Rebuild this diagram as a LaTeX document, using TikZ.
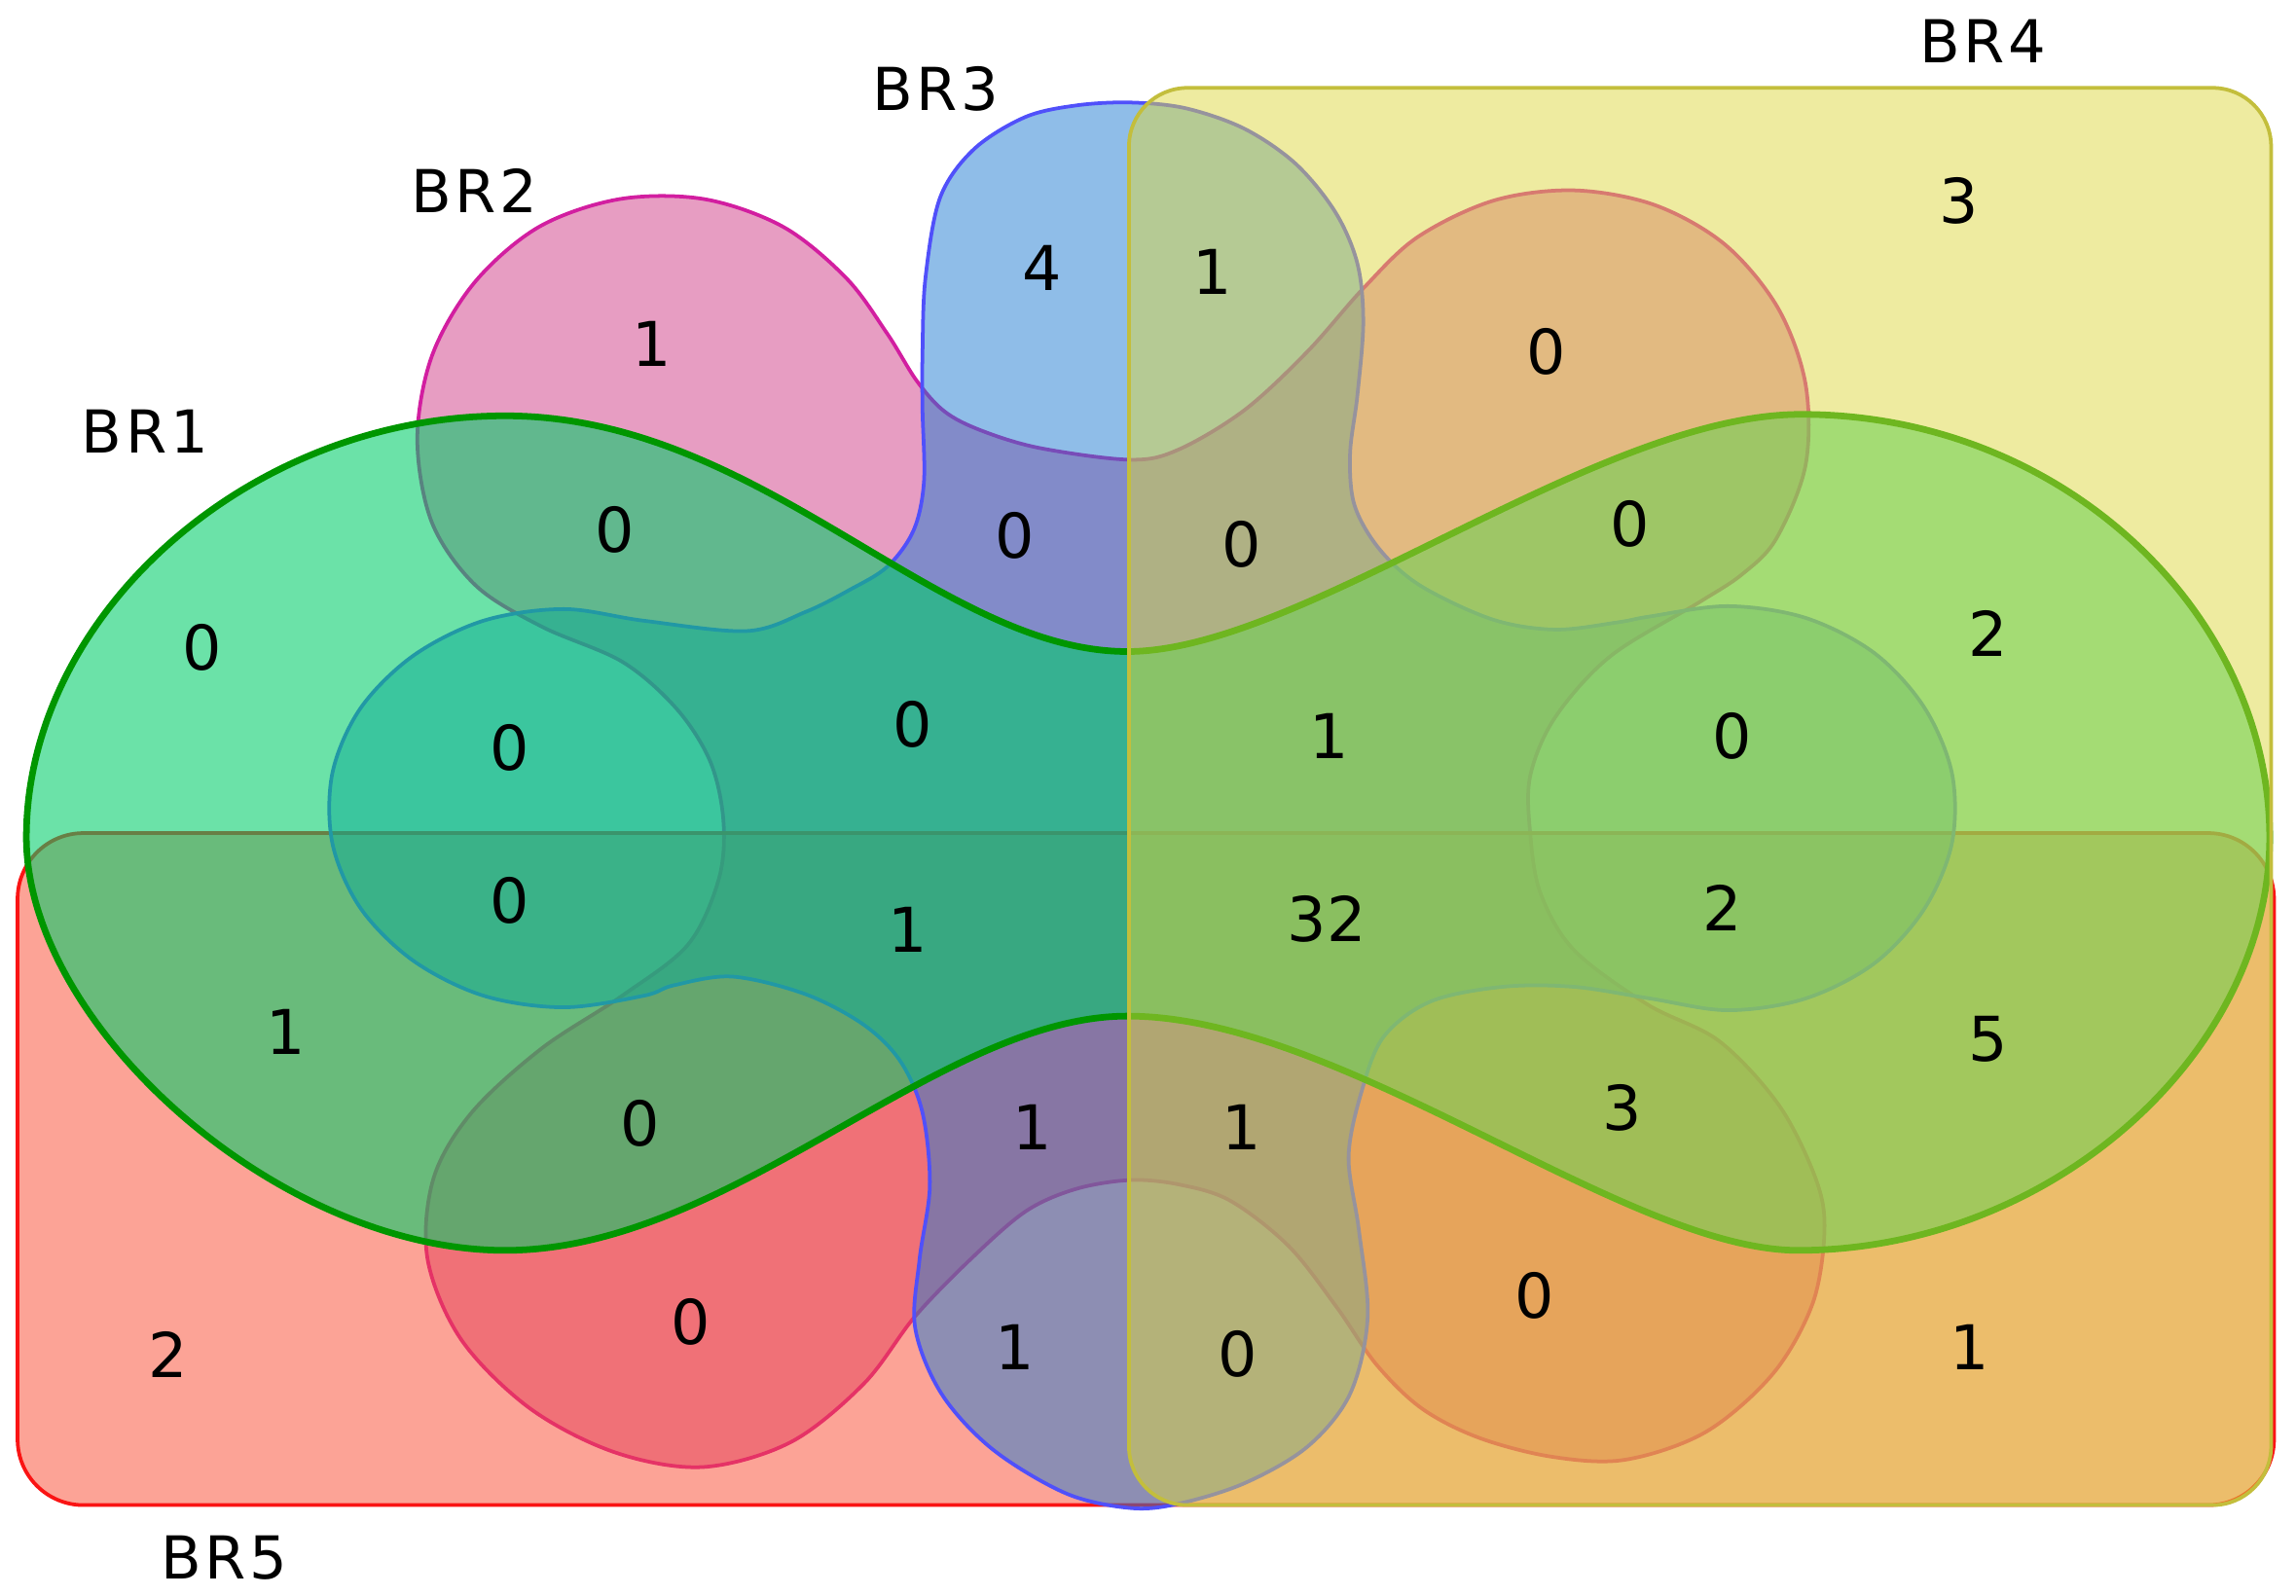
\documentclass[tikz,border=0pt]{standalone}
\usepackage{fontspec}
\usepackage{tikz}
\setmainfont{DejaVu Sans}
\newfontfamily\labfont[LetterSpace=6]{DejaVu Sans}
\definecolor{brumfill}{RGB}{0,205,105}
\definecolor{brdoisfill}{RGB}{207,59,133}
\definecolor{brtresfill}{RGB}{31,123,209}
\definecolor{brquatrofill}{RGB}{221,215,65}
\definecolor{brcincofill}{RGB}{249,71,45}
\definecolor{brumline}{RGB}{0,150,0}
\definecolor{brdoisline}{RGB}{210,30,160}
\definecolor{brtresline}{RGB}{80,80,250}
\definecolor{brquatroline}{RGB}{195,190,60}
\definecolor{brcincoline}{RGB}{250,20,20}
\tikzstyle{numero}=[inner sep=0pt,minimum size=14pt,font=\fontsize{12}{14}\selectfont]
\tikzstyle{rotulo}=[inner sep=0pt,minimum size=14pt,font=\labfont\fontsize{11.5}{13}\selectfont]
\tikzstyle{conjunto}=[line width=0.25mm,fill opacity=0.5,draw opacity=1]

\begin{document}
\begin{tikzpicture}[x=0.1mm,y=-0.1mm]
    \useasboundingbox (0,0) rectangle (1568,1089.5);
    % BR2
    \draw [conjunto,draw=brdoisline,fill=brdoisfill] plot [smooth cycle,tension=0.55] coordinates {
      (772,314) (805,307) (850,280) (893,240) (931,197) (968,162) (1020,137) (1075,130)
      (1130,140) (1178,167) (1214,210) (1233,262) (1233,318) (1213,368) (1190,392) (1161,411)
      (1100,448) (1062,490) (1045,530) (1045,569) (1052,610) (1075,649) (1125,686) (1174,711)
      (1215,755) (1240,805) (1246,840) (1238,890) (1211,938) (1165,978) (1110,997) (1060,995)
      (1010,982) (971,962) (940,932) (913,893) (880,851) (840,820) (805,809) (772,806)
      (735,812) (701,827) (665,858) (625,899) (590,945) (540,985) (480,1002) (420,992)
      (362,962) (315,915) (292,860) (296,805) (322,760) (370,716) (425,680) (470,645)
      (491,600) (494,560) (485,520) (462,484) (425,452) (370,428) (325,400) (295,357)
      (285,300) (295,243) (324,193) (368,155) (423,136) (481,136) (535,155) (578,190)
      (606,228) (626,260) (645,281) (670,294) (710,306)};
    % BR5
    \draw [conjunto,draw=brcincoline,fill=brcincofill,rounded corners=4.5mm] (12,569) rectangle (1553,1028);
    % BR3
    \draw [conjunto,draw=brtresline,fill=brtresfill] plot [smooth cycle,tension=0.55] coordinates {
      (772,70) (810,74) (850,88) (885,112) (912,145) (927,180) (931,220) (927,270)
      (922,310) (925,345) (942,375) (970,400) (1019,423) (1062,430) (1105,425) (1127,421)
      (1180,414) (1233,422) (1280,446) (1314,483) (1333,528) (1333,576) (1314,621) (1280,658)
      (1233,682) (1180,690) (1127,682) (1075,674) (1026,674) (977,684) (945,708) (930,745)
      (921,790) (928,840) (934,900) (922,952) (893,988) (850,1013) (805,1027) (772,1030)
      (728,1020) (678,990) (643,952) (625,907) (628,860) (635,810) (630,760) (615,725)
      (590,700) (550,679) (500,667) (460,673) (440,680) (385,688) (330,680) (282,656)
      (246,620) (227,576) (227,528) (246,484) (282,448) (330,424) (385,416) (440,424)
      (510,431) (550,418) (580,403) (606,387) (624,362) (631,329) (630,280) (630,240)
      (632,190) (642,135) (665,102) (700,80) (735,72)};
    % BR1
    \draw [conjunto,line width=0.45mm,fill opacity=0.58,draw=brumline,fill=brumfill]
      (770,445) .. controls (640,445) and (520,284) .. (345,284)
      .. controls (170,284) and (18,420) .. (18,572)
      .. controls (18,700) and (190,854) .. (345,854)
      .. controls (500,854) and (640,694) .. (770,694)
      .. controls (917,694) and (1110,854) .. (1228,854)
      .. controls (1400,854) and (1550,720) .. (1550,572)
      .. controls (1550,420) and (1410,283) .. (1230,283)
      .. controls (1090,283) and (890,445) .. (770,445) -- cycle;
    % BR4
    \draw [conjunto,draw=brquatroline,fill=brquatrofill,rounded corners=4mm] (771,60) rectangle (1551,1028);

    \node [rotulo] (l1) at (99,295) {BR1};
    \node [rotulo] (l2) at (324,130) {BR2};
    \node [rotulo] (l3) at (639,61) {BR3};
    \node [rotulo] (l4) at (1354,28) {BR4};
    \node [rotulo] (l5) at (153,1064) {BR5};

    \node [numero] (n1)  at (138,442) {0};
    \node [numero] (n2)  at (445,235) {1};
    \node [numero] (n3)  at (712,183) {4};
    \node [numero] (n4)  at (828,186) {1};
    \node [numero] (n5)  at (1338,137) {3};
    \node [numero] (n6)  at (1056,240) {0};
    \node [numero] (n7)  at (420,362) {0};
    \node [numero] (n8)  at (693,366) {0};
    \node [numero] (n9)  at (848,372) {0};
    \node [numero] (n10) at (1113,358) {0};
    \node [numero] (n11) at (1358,433) {2};
    \node [numero] (n12) at (348,511) {0};
    \node [numero] (n13) at (623,495) {0};
    \node [numero] (n14) at (908,503) {1};
    \node [numero] (n15) at (1183,503) {0};
    \node [numero] (n16) at (348,615) {0};
    \node [numero] (n17) at (620,635) {1};
    \node [numero] (n18) at (906,628) {32};
    \node [numero] (n19) at (1176,620) {2};
    \node [numero] (n20) at (195,705) {1};
    \node [numero] (n21) at (1358,710) {5};
    \node [numero] (n22) at (437,767) {0};
    \node [numero] (n23) at (705,770) {1};
    \node [numero] (n24) at (848,770) {1};
    \node [numero] (n25) at (1108,757) {3};
    \node [numero] (n26) at (115,925) {2};
    \node [numero] (n27) at (472,903) {0};
    \node [numero] (n28) at (693,920) {1};
    \node [numero] (n29) at (845,925) {0};
    \node [numero] (n30) at (1048,885) {0};
    \node [numero] (n31) at (1345,920) {1};
\end{tikzpicture}
\end{document}
